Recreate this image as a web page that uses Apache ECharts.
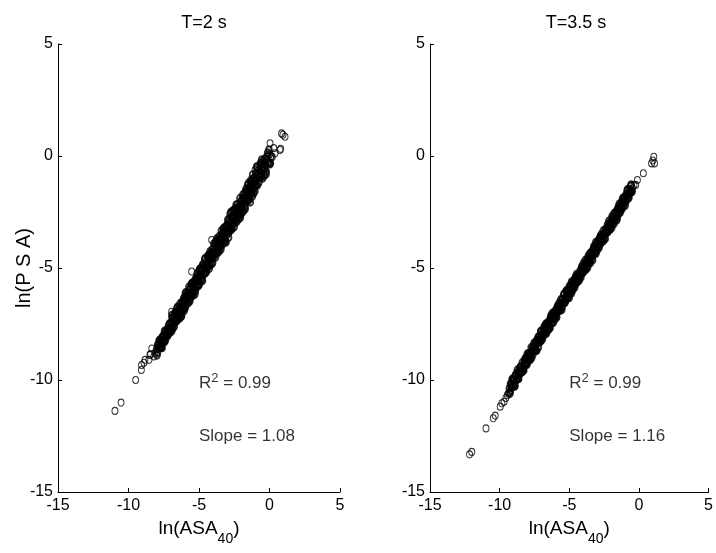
<!DOCTYPE html>
<html><head><meta charset="utf-8">
<script src="https://cdn.jsdelivr.net/npm/echarts@6/dist/echarts.min.js"></script>
<style>html,body{margin:0;padding:0;background:#fff}#c{width:716px;height:553px}</style>
</head><body><div id="c"></div>
<script>
const panelTitles = ['T=2 s', 'T=3.5 s'];
const r2Values = ['0.99', '0.99'];
const slopeValues = ['1.08', '1.16'];
const axisMin = -15, axisMax = 5, axisStep = 5;
const yLabelText = 'ln(P S A)';
const xLabelMain = 'ln(ASA', xLabelSub = '40';
const annotR2Pos = [-5, -10.15];
const annotSlopePos = [-5, -12.5];

const leftCore = [
[-8.00,-8.62],[-7.95,-8.77],[-7.91,-8.43],[-7.86,-8.56],[-7.82,-8.24],[-7.77,-8.54],[-7.73,-8.30],[-7.68,-8.55],[-7.64,-8.11],[-7.59,-8.24],[-7.55,-8.30],[-7.50,-8.00],[-7.46,-8.31],[-7.41,-8.01],[-7.37,-7.82],[-7.32,-8.04],[-7.28,-7.83],[-7.23,-8.03],[-7.19,-7.86],[-7.14,-7.54],[-7.10,-7.72],[-7.05,-7.87],
[-7.01,-7.75],[-6.97,-7.43],[-6.94,-7.82],[-6.90,-7.22],[-6.87,-7.44],[-6.83,-7.54],[-6.80,-7.16],[-6.76,-7.61],[-6.73,-7.23],[-6.69,-6.98],[-6.66,-7.33],[-6.62,-7.05],[-6.59,-7.37],[-6.55,-7.15],[-6.52,-6.74],[-6.48,-7.01],[-6.45,-7.26],[-6.41,-6.80],[-6.38,-7.02],[-6.34,-6.59],[-6.31,-7.05],[-6.27,-6.73],[-6.24,-7.12],[-6.20,-6.52],[-6.17,-6.74],[-6.13,-6.84],[-6.10,-6.46],[-6.06,-6.91],[-6.03,-6.53],
[-5.99,-6.27],[-5.96,-6.73],[-5.92,-6.34],[-5.89,-6.10],[-5.85,-6.44],[-5.82,-6.17],[-5.78,-6.48],[-5.75,-6.27],[-5.71,-5.85],[-5.68,-6.13],[-5.64,-6.37],[-5.61,-5.92],[-5.57,-6.13],[-5.54,-5.71],[-5.50,-6.16],[-5.47,-5.85],[-5.43,-6.23],[-5.40,-5.64],[-5.36,-5.85],[-5.33,-5.96],[-5.29,-5.57],[-5.26,-6.03],[-5.22,-5.64],[-5.19,-5.40],[-5.15,-5.74],[-5.12,-5.47],[-5.08,-5.78],[-5.05,-5.57],[-5.01,-5.15],
[-4.98,-5.73],[-4.95,-5.09],[-4.91,-5.32],[-4.88,-5.44],[-4.84,-5.02],[-4.81,-5.52],[-4.77,-5.10],[-4.74,-4.85],[-4.70,-5.22],[-4.67,-4.93],[-4.63,-5.27],[-4.60,-5.05],[-4.56,-4.59],[-4.53,-4.90],[-4.49,-5.17],[-4.46,-4.68],[-4.42,-4.91],[-4.39,-4.46],[-4.35,-4.95],[-4.32,-4.62],[-4.28,-5.03],[-4.25,-4.39],[-4.21,-4.62],[-4.18,-4.74],[-4.14,-4.32],[-4.11,-4.82],[-4.07,-4.40],[-4.04,-4.15],[-4.00,-4.52],
[-3.97,-4.38],[-3.94,-3.91],[-3.90,-4.43],[-3.87,-4.08],[-3.83,-4.52],[-3.80,-3.85],[-3.76,-4.09],[-3.73,-4.22],[-3.69,-3.78],[-3.66,-4.31],[-3.62,-3.87],[-3.59,-3.60],[-3.55,-4.00],[-3.52,-3.69],[-3.48,-4.05],[-3.45,-3.82],[-3.41,-3.34],[-3.38,-3.67],[-3.34,-3.95],[-3.31,-3.44],[-3.27,-3.68],[-3.24,-3.21],[-3.20,-3.73],[-3.17,-3.38],[-3.13,-3.82],[-3.10,-3.15],[-3.06,-3.39],[-3.03,-3.52],[-2.99,-3.08],
[-2.96,-2.85],[-2.93,-3.32],[-2.89,-2.96],[-2.86,-3.38],[-2.82,-3.12],[-2.79,-2.59],[-2.75,-2.95],[-2.72,-3.29],[-2.68,-2.71],[-2.65,-2.99],[-2.61,-2.45],[-2.58,-3.06],[-2.54,-2.66],[-2.51,-3.17],[-2.47,-2.40],[-2.44,-2.69],[-2.40,-2.83],[-2.37,-2.35],[-2.33,-2.94],[-2.30,-2.46],[-2.26,-2.15],[-2.23,-2.62],[-2.19,-2.26],[-2.16,-2.68],[-2.12,-2.42],[-2.09,-1.89],[-2.05,-2.25],[-2.02,-2.59],[-1.98,-2.01],
[-1.95,-1.99],[-1.92,-2.50],[-1.88,-1.73],[-1.85,-2.02],[-1.81,-2.16],[-1.78,-1.68],[-1.74,-2.27],[-1.71,-1.79],[-1.67,-1.48],[-1.64,-1.95],[-1.60,-1.59],[-1.57,-2.01],[-1.53,-1.75],[-1.50,-1.22],[-1.46,-1.58],[-1.43,-1.92],[-1.39,-1.34],[-1.36,-1.62],[-1.32,-1.08],[-1.29,-1.69],[-1.25,-1.29],[-1.22,-1.80],[-1.18,-1.03],[-1.15,-1.32],[-1.11,-1.46],[-1.08,-0.98],[-1.04,-1.57],[-1.01,-1.09],[-0.97,-0.78],
[-0.94,-1.30],[-0.90,-1.04],[-0.85,-0.49],[-0.81,-0.85],[-0.76,-1.17],[-0.72,-0.59],[-0.67,-0.85],[-0.63,-0.31],[-0.58,-0.90],[-0.54,-0.50],[-0.49,-0.99],[-0.45,-0.22],[-0.40,-0.49],[-0.35,-0.62],[-0.30,-0.12],[-0.24,-0.69],[-0.19,-0.19],[-0.13,0.14],[-0.08,-0.31],[-0.02,0.07],[0.05,-0.31],[0.12,-0.02]
];
const leftCore2 = [
[-7.98,-8.89],[-7.92,-8.44],[-7.86,-8.56],[-7.80,-8.23],[-7.74,-8.56],[-7.68,-8.26],[-7.62,-8.56],[-7.56,-8.05],[-7.50,-8.26],[-7.44,-7.81],[-7.38,-8.23],[-7.32,-7.93],[-7.26,-7.99],[-7.20,-7.66],[-7.14,-7.93],[-7.08,-7.48],[-7.02,-7.69],
[-6.98,-7.69],[-6.92,-7.11],[-6.86,-7.69],[-6.80,-7.31],[-6.74,-7.41],[-6.68,-6.99],[-6.62,-7.37],[-6.56,-6.79],[-6.50,-7.09],[-6.44,-6.87],[-6.38,-7.25],[-6.32,-6.87],[-6.26,-7.17],[-6.20,-6.59],[-6.14,-6.77],[-6.08,-6.35],[-6.02,-6.81],
[-5.96,-6.11],[-5.90,-6.41],[-5.84,-6.19],[-5.78,-6.57],[-5.72,-6.19],[-5.66,-6.49],[-5.60,-5.91],[-5.54,-6.09],[-5.48,-5.67],[-5.42,-6.13],[-5.36,-5.75],[-5.30,-6.17],[-5.24,-5.51],[-5.18,-5.81],[-5.12,-5.23],[-5.06,-5.81],[-5.00,-5.43],
[-4.94,-5.04],[-4.88,-5.52],[-4.82,-5.13],[-4.76,-5.57],[-4.70,-4.88],[-4.64,-5.20],[-4.58,-4.59],[-4.52,-5.20],[-4.46,-4.81],[-4.40,-4.92],[-4.34,-4.48],[-4.28,-4.88],[-4.22,-4.27],[-4.16,-4.59],[-4.10,-4.36],[-4.04,-4.77],[-3.98,-4.37],
[-3.93,-4.37],[-3.87,-3.91],[-3.81,-4.34],[-3.75,-3.70],[-3.69,-4.04],[-3.63,-3.80],[-3.57,-4.24],[-3.51,-3.82],[-3.45,-4.16],[-3.39,-3.52],[-3.33,-3.73],[-3.27,-3.26],[-3.21,-3.79],[-3.15,-3.37],[-3.09,-3.85],[-3.03,-3.11],[-2.97,-3.46],
[-2.91,-3.64],[-2.85,-2.82],[-2.79,-3.22],[-2.73,-2.50],[-2.67,-3.25],[-2.61,-2.79],[-2.55,-2.93],[-2.49,-2.41],[-2.43,-2.91],[-2.37,-2.19],[-2.31,-2.59],[-2.25,-2.33],[-2.19,-2.82],[-2.13,-2.36],[-2.07,-2.75],[-2.01,-2.04],[-1.96,-2.29],
[-1.91,-1.89],[-1.85,-2.43],[-1.79,-1.93],[-1.73,-2.37],[-1.67,-1.59],[-1.61,-1.86],[-1.55,-1.31],[-1.49,-1.96],[-1.43,-1.46],[-1.37,-2.06],[-1.31,-1.18],[-1.25,-1.61],[-1.19,-0.84],[-1.13,-1.66],[-1.07,-1.16],[-1.01,-1.32],[-0.96,-0.77],
[-0.91,-0.48],[-0.85,-1.30],[-0.79,-0.80],[-0.73,-0.96],[-0.67,-0.40],[-0.61,-0.95],[-0.55,-0.17],[-0.49,-0.61],[-0.43,-0.33],[-0.37,-0.87],[-0.31,-0.37],[-0.25,-0.81],[-0.18,-0.02],[-0.11,-0.28],[-0.04,0.28],[0.03,-0.36]
];
const leftOutliers = [
[-10.96,-11.38],[-10.53,-11.01],[-9.49,-10.00],[-9.09,-9.55],[-9.07,-9.33],[-8.90,-9.23],[-8.83,-9.10],[-8.55,-9.10],[-8.48,-8.88],[-8.43,-8.84],[-8.35,-8.59],[-8.12,-8.78],[-8.20,-8.95],
[0.04,0.57],[0.74,0.27],[0.79,0.32],[0.86,1.01],[0.95,0.95],[1.10,0.86],[0.39,0.12],[0.30,0.35],[0.20,-0.05],[-1.03,-0.63],[-4.10,-3.75],[-5.52,-5.16],[-6.94,-6.95]
];
const rightCore = [
[-9.30,-10.37],[-9.25,-10.53],[-9.19,-10.16],[-9.14,-10.29],[-9.08,-9.95],[-9.03,-10.26],[-8.97,-9.99],[-8.92,-10.25],[-8.86,-9.78],[-8.81,-9.91],[-8.75,-9.95],[-8.70,-9.65],[-8.64,-9.94],[-8.59,-9.64],[-8.53,-9.43],[-8.48,-9.66],[-8.42,-9.42],[-8.37,-9.62],[-8.31,-9.44],
[-8.27,-9.57],[-8.22,-9.11],[-8.18,-9.25],[-8.13,-9.30],[-8.09,-9.01],[-8.04,-9.31],[-8.00,-9.02],[-7.95,-8.82],[-7.91,-9.06],[-7.86,-8.83],[-7.82,-9.04],[-7.77,-8.87],[-7.73,-8.55],[-7.68,-8.72],[-7.64,-8.89],[-7.59,-8.53],[-7.55,-8.67],[-7.50,-8.34],[-7.46,-8.66],[-7.41,-8.40],[-7.37,-8.67],[-7.32,-8.21],
[-7.28,-8.28],[-7.23,-8.08],[-7.19,-8.32],[-7.14,-8.09],[-7.10,-8.30],[-7.05,-8.13],[-7.01,-7.81],[-6.96,-7.98],[-6.92,-8.15],[-6.87,-7.79],[-6.83,-7.93],[-6.78,-7.60],[-6.74,-7.92],[-6.69,-7.66],[-6.65,-7.93],[-6.60,-7.47],[-6.56,-7.61],[-6.51,-7.66],[-6.47,-7.37],[-6.42,-7.67],[-6.38,-7.38],[-6.33,-7.18],
[-6.29,-7.11],[-6.24,-7.42],[-6.20,-7.17],[-6.15,-7.43],[-6.11,-6.98],[-6.06,-7.11],[-6.02,-7.17],[-5.97,-6.87],[-5.93,-7.18],[-5.88,-6.88],[-5.84,-6.69],[-5.79,-6.92],[-5.75,-6.70],[-5.70,-6.90],[-5.66,-6.74],[-5.61,-6.41],[-5.57,-6.59],[-5.52,-6.75],[-5.48,-6.40],[-5.43,-6.53],[-5.39,-6.21],[-5.34,-6.52],
[-5.30,-6.50],[-5.25,-6.33],[-5.21,-6.01],[-5.16,-6.18],[-5.12,-6.35],[-5.07,-5.99],[-5.03,-6.13],[-4.98,-5.80],[-4.94,-6.12],[-4.89,-5.86],[-4.85,-6.13],[-4.80,-5.67],[-4.76,-5.81],[-4.71,-5.86],[-4.67,-5.57],[-4.62,-5.87],[-4.58,-5.58],[-4.53,-5.38],[-4.49,-5.62],[-4.44,-5.39],[-4.40,-5.60],[-4.35,-5.43],
[-4.31,-5.36],[-4.26,-5.41],[-4.22,-5.12],[-4.17,-5.42],[-4.13,-5.13],[-4.08,-4.93],[-4.04,-5.17],[-3.99,-4.94],[-3.95,-5.15],[-3.90,-4.98],[-3.86,-4.66],[-3.81,-4.83],[-3.77,-5.00],[-3.72,-4.64],[-3.68,-4.78],[-3.63,-4.45],[-3.59,-4.77],[-3.54,-4.51],[-3.50,-4.78],[-3.45,-4.32],[-3.41,-4.46],[-3.36,-4.51],
[-3.32,-4.22],[-3.27,-4.35],[-3.23,-4.03],[-3.18,-4.34],[-3.14,-4.09],[-3.09,-4.35],[-3.05,-3.90],[-3.00,-4.03],[-2.96,-4.09],[-2.91,-3.79],[-2.87,-4.10],[-2.82,-3.80],[-2.78,-3.61],[-2.73,-3.84],[-2.69,-3.62],[-2.64,-3.82],[-2.60,-3.66],[-2.55,-3.33],[-2.51,-3.51],[-2.46,-3.67],[-2.42,-3.32],[-2.37,-3.45],
[-2.33,-3.41],[-2.28,-3.18],[-2.24,-3.39],[-2.19,-3.22],[-2.15,-2.90],[-2.10,-3.07],[-2.06,-3.24],[-2.01,-2.88],[-1.97,-3.02],[-1.92,-2.69],[-1.88,-3.01],[-1.83,-2.75],[-1.79,-3.02],[-1.74,-2.56],[-1.70,-2.70],[-1.65,-2.75],[-1.61,-2.46],[-1.56,-2.76],[-1.52,-2.47],[-1.47,-2.27],[-1.43,-2.51],[-1.38,-2.28],
[-1.33,-2.38],[-1.28,-2.08],[-1.22,-2.37],[-1.17,-2.07],[-1.11,-1.86],[-1.06,-2.09],[-1.00,-1.85],[-0.95,-2.05],[-0.89,-1.87],[-0.84,-1.54],[-0.78,-1.70],[-0.73,-1.86],[-0.67,-1.49],[-0.62,-1.62],[-0.56,-1.28],[-0.50,-1.58]
];
const rightCore2 = [
[-9.27,-10.61],[-9.21,-10.18],[-9.15,-10.29],[-9.09,-9.98],[-9.03,-10.28],[-8.97,-10.00],[-8.91,-10.28],[-8.85,-9.80],[-8.79,-9.99],[-8.73,-9.56],[-8.67,-9.95],[-8.61,-9.67],[-8.55,-9.72],[-8.49,-9.41],[-8.43,-9.66],[-8.37,-9.23],
[-8.31,-9.56],[-8.25,-9.28],[-8.19,-9.33],[-8.13,-9.02],[-8.07,-9.27],[-8.01,-8.84],[-7.95,-9.03],[-7.89,-8.86],[-7.83,-9.11],[-7.77,-8.83],[-7.71,-9.02],[-7.65,-8.59],[-7.59,-8.70],[-7.53,-8.39],[-7.47,-8.69],[-7.41,-8.41],[-7.35,-8.69],
[-7.29,-8.27],[-7.23,-8.55],[-7.17,-8.07],[-7.11,-8.26],[-7.05,-7.83],[-6.99,-8.22],[-6.93,-7.94],[-6.87,-7.99],[-6.81,-7.68],[-6.75,-7.93],[-6.69,-7.50],[-6.63,-7.69],[-6.57,-7.52],[-6.51,-7.77],[-6.45,-7.49],[-6.39,-7.68],[-6.33,-7.25],
[-6.27,-7.45],[-6.21,-7.02],[-6.15,-7.21],[-6.09,-7.04],[-6.03,-7.29],[-5.97,-7.01],[-5.91,-7.20],[-5.85,-6.77],[-5.79,-6.88],[-5.73,-6.57],[-5.67,-6.87],[-5.61,-6.59],[-5.55,-6.87],[-5.49,-6.39],[-5.43,-6.58],[-5.37,-6.15],[-5.31,-6.54],
[-5.25,-6.34],[-5.19,-6.03],[-5.13,-6.33],[-5.07,-6.05],[-5.01,-6.33],[-4.95,-5.85],[-4.89,-6.04],[-4.83,-5.61],[-4.77,-6.00],[-4.71,-5.72],[-4.65,-5.77],[-4.59,-5.46],[-4.53,-5.71],[-4.47,-5.28],[-4.41,-5.47],[-4.35,-5.30],[-4.29,-5.55],
[-4.23,-5.24],[-4.17,-5.29],[-4.11,-4.98],[-4.05,-5.23],[-3.99,-4.80],[-3.93,-4.99],[-3.87,-4.82],[-3.81,-5.07],[-3.75,-4.79],[-3.69,-4.98],[-3.63,-4.55],[-3.57,-4.66],[-3.51,-4.35],[-3.45,-4.65],[-3.39,-4.37],[-3.33,-4.65],[-3.27,-4.17],
[-3.21,-4.09],[-3.15,-4.28],[-3.09,-3.85],[-3.03,-4.24],[-2.97,-3.96],[-2.91,-4.01],[-2.85,-3.70],[-2.79,-3.95],[-2.73,-3.52],[-2.67,-3.71],[-2.61,-3.54],[-2.55,-3.79],[-2.49,-3.51],[-2.43,-3.70],[-2.37,-3.27],[-2.31,-3.38],[-2.25,-3.07],
[-2.19,-3.20],[-2.13,-3.03],[-2.07,-3.28],[-2.01,-3.00],[-1.95,-3.19],[-1.89,-2.76],[-1.83,-2.87],[-1.77,-2.56],[-1.71,-2.86],[-1.65,-2.58],[-1.59,-2.86],[-1.53,-2.38],[-1.47,-2.57],[-1.41,-2.14],[-1.35,-2.53],[-1.29,-2.25],[-1.23,-2.30],
[-1.17,-1.91],[-1.11,-2.21],[-1.05,-1.93],[-0.99,-2.21],[-0.93,-1.73],[-0.87,-1.92],[-0.81,-1.49],[-0.75,-1.88],[-0.69,-1.60],[-0.63,-1.65],[-0.57,-1.34],[-0.52,-1.60]
];
const rightOutliers = [
[-12.16,-13.32],[-12.00,-13.21],[-10.98,-12.16],[-10.46,-11.71],[-10.32,-11.59],[-9.96,-11.19],[-9.84,-11.04],[-9.68,-10.97],[-9.55,-10.80],[-9.45,-10.67],[-9.38,-10.60],[-9.21,-10.45],
[-0.46,-1.44],[-0.35,-1.30],[-0.23,-1.29],[-0.11,-1.07],[0.32,-0.77],[0.91,-0.33],[1.12,-0.33],[1.07,-0.03],[1.00,-0.20]
];

const FONT = '"Liberation Sans", Arial, Helvetica, sans-serif';
const grids = [
  {left: 58, top: 44, width: 282, height: 448},
  {left: 430, top: 44, width: 282, height: 448}
];
function mkX(i) {
  return {
    gridIndex: i, type: 'value', min: axisMin, max: axisMax, interval: axisStep,
    axisLine: {show: true, onZero: false, lineStyle: {color: '#000', width: 1}},
    axisTick: {show: true, inside: true, length: 4, lineStyle: {color: '#000'}},
    splitLine: {show: false},
    axisLabel: {color: '#000', fontFamily: FONT, fontSize: 16, margin: 6},
    name: '{m|' + xLabelMain + '}{s|' + xLabelSub + '}{m|)}',
    nameLocation: 'middle', nameGap: 18,
    nameTextStyle: {rich: {
      m: {fontFamily: FONT, fontSize: 19, color: '#000'},
      s: {fontFamily: FONT, fontSize: 14, color: '#000', verticalAlign: 'bottom', padding: [22, 0, 0, 0]}
    }}
  };
}
function mkY(i) {
  const o = {
    gridIndex: i, type: 'value', min: axisMin, max: axisMax, interval: axisStep,
    axisLine: {show: true, onZero: false, lineStyle: {color: '#000', width: 1}},
    axisTick: {show: true, inside: true, length: 4, lineStyle: {color: '#000'}},
    splitLine: {show: false},
    axisLabel: {color: '#000', fontFamily: FONT, fontSize: 16, margin: 5}
  };
  if (i === 0) {
    o.name = yLabelText; o.nameLocation = 'middle'; o.nameGap = 24;
    o.nameMoveOverlap = false;
    o.nameTextStyle = {fontFamily: FONT, fontSize: 20, color: '#000'};
  }
  return o;
}
const ring = (bw) => ({color: 'rgba(0,0,0,0)', borderColor: '#000', borderWidth: bw});
function pts(i, data, bw) {
  return {type: 'scatter', xAxisIndex: i, yAxisIndex: i, data: data, symbol: 'circle',
    symbolSize: [6, 7], itemStyle: ring(bw), silent: true, animation: false};
}
function annot(i, pos, rich, text) {
  return {type: 'scatter', xAxisIndex: i, yAxisIndex: i, data: [pos], symbolSize: 0, silent: true,
    label: {show: true, position: 'right', distance: 0, formatter: text, rich: rich}};
}
const annRich = {
  a: {fontFamily: FONT, fontSize: 17, color: '#000'},
  sup: {fontFamily: FONT, fontSize: 13, color: '#000', verticalAlign: 'top', padding: [0, 0, 9, 0]}
};
const series = [
  pts(0, leftCore, 1.9), pts(0, leftCore2, 1.9), pts(0, leftOutliers, 1),
  pts(1, rightCore, 1.9), pts(1, rightCore2, 1.9), pts(1, rightOutliers, 1)
];
for (let i = 0; i < 2; i++) {
  series.push(annot(i, annotR2Pos, annRich, '{a|R}{sup|2}{a| = ' + r2Values[i] + '}'));
  series.push(annot(i, annotSlopePos, annRich, '{a|Slope = ' + slopeValues[i] + '}'));
}
const chart = echarts.init(document.getElementById('c'), null, {renderer: 'canvas'});
chart.setOption({
  animation: false,
  backgroundColor: '#fff',
  title: panelTitles.map((t, i) => ({
    text: t, left: grids[i].left + grids[i].width / 2, top: 9, textAlign: 'center',
    textStyle: {fontFamily: FONT, fontSize: 18, fontWeight: 'normal', color: '#000'}
  })),
  grid: grids,
  xAxis: [mkX(0), mkX(1)],
  yAxis: [mkY(0), mkY(1)],
  series: series
});
</script></body></html>
